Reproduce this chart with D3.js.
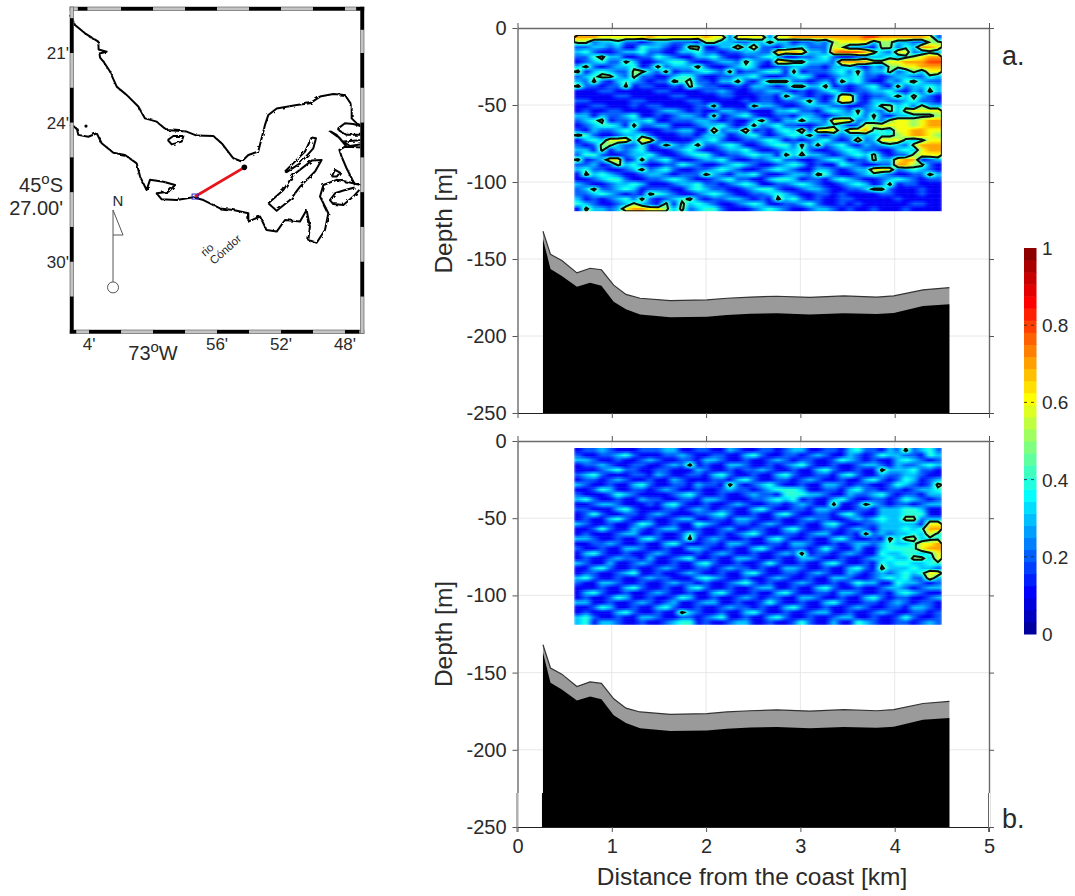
<!DOCTYPE html>
<html>
<head>
<meta charset="utf-8">
<script src="https://d3js.org/d3.v7.min.js"></script>
<style>
    html, body { margin: 0; padding: 0; background: #fff; }
    svg { display: block; }
    text { font-family: "Liberation Sans", Arial, sans-serif; fill: #2a2a2a; }
</style>
</head>
<body>
<svg id="chart" width="1075" height="896"></svg>
<script>
// ---- section data ----
var depthTicks = [0, -50, -100, -150, -200, -250];
var distTicks = [0, 1, 2, 3, 4, 5];
var barTicks = [0, 0.2, 0.4, 0.6, 0.8, 1];

var bottomKm = [0.27, 0.35, 0.47, 0.63, 0.77, 0.89, 1.02, 1.15, 1.30, 1.62, 2.01, 2.22, 2.47, 2.75, 3.10, 3.46, 3.81, 3.99, 4.30, 4.58];
var surfaceTop = [-132, -147, -151, -159, -156, -157, -167, -173, -175.5, -177, -176.6, -175.5, -174.7, -174.2, -174.9, -174, -174.7, -174, -170, -168.6];
var solidTop = [-137, -156.5, -161, -168, -165.4, -167.3, -177.7, -182.7, -186, -187.9, -187.5, -186.4, -185.5, -185.3, -186, -185.3, -185.7, -185, -180.5, -179.4];

// heat values, tenths
var gridKm = [0.6, 4.5];
var gridDepth = [-4.5, -119];
var rowsA = [
    "7776666667 6666667662 6666266777 7777778877 777762",
    "5523342212 3322215533 2233533122 3256666355 332255",
    "2233231143 3212551133 6362213342 2265332155 243776",
    "3421123342 2113342212 2332276763 3278887532 662343",
    "2245331122 4321133421 1223431122 3421123334 345677",
    "1234225311 2344211233 2532166553 3327777556 677788",
    "3521233412 5233352112 3431122332 2133421325 566777",
    "5134322553 2512234325 1223441512 2234252335 235366",
    "2345532522 1134421122 3342112343 1123342212 332243",
    "3252134321 2254522133 5213555221 2315342113 245322",
    "5221225122 1121532211 2133212553 3512123421 523343",
    "1112211111 2211112232 1122332121 2342122334 213253",
    "1111122111 1122111122 1112215321 2126621223 535321",
    "2211111221 1111221111 1212212235 2136621332 234221",
    "1122111212 2111122511 1153321123 3322112355 342533",
    "1211221111 2332121133 2211133422 1343252325 356666",
    "3313223411 2123321512 3421122133 2123342521 334445",
    "2345122334 1122233212 1135213353 3266623425 665677",
    "1234431522 3311123342 1252342211 2343126566 665677",
    "2132234311 1223311623 3612134361 6663667443 667766",
    "5421123342 1112213331 2342123435 2132333344 567765",
    "1343666366 2111133421 1223431212 3421262366 643466",
    "2125532241 2532352234 3112344252 5234213234 325777",
    "3315132341 1123421123 3421123342 1123432211 343677",
    "2442112334 2112344212 2343315353 3212343521 225666",
    "5123661252 3421123342 1122342211 2343122533 677123",
    "2231253421 1224321123 4321123431 2114321122 775521",
    "3422112352 3421122343 2112343211 3321233666 234321",
    "1534321123 3212225321 3342112332 5421123432 112253",
    "1123442112 2343211234 2211344312 2134321123 432122",
    "3211233431 1123342212 3431122343 2112343125 122111",
    "2352234312 2211343221 1234421123 3211223552 111211",
    "2234321215 4321123432 1122343211 2212111122 111211",
    "3121234252 1234521223 3212153421 2112211111 211111",
    "4321123532 1515343211 2343112234 2112121111 112211",
    "1533236776 6535234421 1123432112 3321211211 121111"
];
var rowsB = [
    "1223211122 2331122113 2112212331 1221342213 252342",
    "2112234211 1223211221 1342112212 3211321243 322143",
    "3321121123 2112213321 1211232122 1124321211 343212",
    "1223211221 1232512113 3211212342 1121123321 322343",
    "1112342211 2211132112 1223211211 3421121153 334221",
    "2342111221 3211221342 1121134211 2213421132 233211",
    "1221232112 1132111221 3421122123 2112113421 243123",
    "3211211342 1122132215 2123421121 1332122112 432125",
    "1124311221 2321121123 2212344431 1221342212 212334",
    "2111243211 1123421121 1232214443 3211322342 122133",
    "3421121132 2112213321 1122343412 1134211221 243212",
    "1123321112 1342112112 3211221232 1151125321 221233",
    "2211134211 1221232122 1134211221 3321122133 344311",
    "1242112212 3211122342 1121134211 2213421133 344411",
    "1211342112 1123311221 3321121123 2211232343 355233",
    "3211211243 1121143211 2212321121 1342112233 333166",
    "1124211321 2331121123 1122113421 1221232133 343477",
    "1211123311 2112421121 2342112212 3311215232 334364",
    "3321121134 2112512321 1211342112 1134211215 355344",
    "1122321121 1342112213 3211221332 1121233234 334667",
    "2112113321 1211332112 1134211221 2421131134 444677",
    "1342112112 3211121232 1121123251 2212321143 344346",
    "1211232213 1123411211 3321121133 2112112334 335536",
    "3211311232 1121134211 2112421121 1342112143 443344",
    "1134211211 2321122123 2212113321 1211342153 334332",
    "1221123411 2112321121 1342112212 3211321232 343466",
    "3421121123 2211134321 1211232112 1133211234 342263",
    "2113321121 1232212112 3421211232 1121243311 433212",
    "1112113421 1211342112 1123311211 3421121123 321233",
    "1342112112 3211211342 1121134211 2213321121 343211",
    "1211243112 1124311211 2321221133 2112113421 221123",
    "3311211232 1231123311 2112421121 1342112212 321221",
    "1124311211 3421121123 2212113421 1211232112 213321",
    "1211134211 2115321121 1342112112 3311211232 112212",
    "3421121133 2112212341 1211342112 1123311211 242112",
    "3413321121 1234412112 3311211242 1131143211 221232"
];

// jet colours of the bar
var jetStops = [0, 0.11, 0.36, 0.61, 0.86, 1];
var jetColors = ["#00008f", "#0000ff", "#00ffff", "#ffff00", "#ff0000", "#800000"];

// ---- map data: minutes east of 73W, minutes south of 45S ----
var lonTicks = [[-4, "4'"], [4, "56'"], [8, "52'"], [12, "48'"]];
var latTicks = [[21, "21'"], [24, "24'"], [30, "30'"]];
var lonDomain = [-5.19, 13.19];
var latDomain = [19.06, 33.03];
var topBlack = [[-4.7, -4.1], [-2, 0], [2, 4], [6, 8], [10, 12], [12.7, 13.19]];
var bottomBlack = [[-5.19, -4.8], [-4, -2], [0, 2], [4, 6], [8, 10], [12, 12.9]];
var leftBlack = [[19.5, 21], [22.5, 24], [25.5, 27], [28.5, 30], [31.5, 33]];
var rightBlack = [[19.06, 20], [21, 22.5], [24, 25.5], [27, 28.5], [30, 31.5]];

var northCoast = [[-5.19, 19.36], [-4.88, 19.79], [-4.25, 20.15], [-3.42, 20.51], [-3.4, 20.85], [-2.9, 20.95], [-3.35, 21.02], [-3.31, 21.2], [-3.10, 21.37], [-2.69, 21.80], [-2.27, 22.45], [-1.54, 22.88], [-0.92, 23.31], [-0.50, 23.82], [0.23, 23.96], [0.85, 24.32], [2.10, 24.39], [2.73, 24.56], [3.77, 24.58], [4.29, 24.89], [5.02, 25.54], [5.54, 25.68], [5.96, 25.40], [6.58, 25.25], [6.79, 24.68], [7.00, 24.10], [7.21, 23.67], [7.73, 23.39], [8.98, 23.24], [9.81, 23.17], [10.44, 22.88], [11.27, 22.77], [12.00, 22.81], [12.42, 23.24], [12.42, 23.82], [12.83, 24.10], [13.15, 24.18]];
var southCoast = [[-5.19, 24.10], [-4.77, 24.25], [-4.67, 24.53], [-4.04, 24.61], [-3.52, 24.46], [-3.21, 24.89], [-2.48, 25.30], [-1.75, 25.40], [-1.02, 25.76], [-0.81, 26.33], [-0.40, 26.91], [-0.19, 26.47], [0.65, 26.55], [1.38, 26.69], [0.96, 26.98], [0.23, 27.05], [0.54, 27.31], [1.48, 27.34], [2.52, 27.22], [3.15, 27.34], [4.19, 27.70], [5.02, 27.77], [5.96, 27.91], [5.96, 28.27], [6.69, 28.05], [7.10, 28.63], [7.73, 28.70], [8.25, 28.20], [9.19, 28.27], [9.60, 27.77], [9.81, 28.49], [9.71, 29.06], [10.23, 29.18], [10.75, 28.63], [10.96, 27.91], [10.44, 27.19], [10.65, 26.69], [11.48, 26.47], [12.10, 26.55], [12.52, 26.62], [13.15, 26.73]];
var eastShore = [[12.63, 26.69], [12.10, 25.97], [11.79, 25.47], [11.65, 25.18], [12.00, 25.04], [13.15, 25.07]];
var islands = [
    [[7.21, 27.48], [8.15, 26.91], [8.77, 26.26], [9.92, 25.64], [10.54, 25.61], [10.13, 26.11], [9.19, 26.76], [8.56, 27.34], [7.73, 27.80], [7.21, 27.48]],
    [[8.25, 26.11], [8.98, 25.61], [9.50, 25.25], [9.92, 24.64], [10.19, 24.68], [10.02, 25.11], [9.19, 25.76], [8.35, 26.14], [8.25, 26.11]],
    [[0.92, 24.75], [1.27, 24.58], [1.90, 24.58], [1.79, 24.82], [1.17, 24.94], [0.92, 24.75]],
    [[10.96, 24.32], [11.48, 24.53], [12.10, 25.04], [11.69, 24.68], [10.96, 24.32]],
    [[13.15, 24.18], [12.52, 24.06], [12.0, 24.03], [11.58, 24.25], [11.65, 24.35], [12.10, 24.53], [13.15, 24.53]],
    [[13.15, 24.75], [11.90, 24.82], [12.31, 25.01], [13.15, 24.92]],
    [[11.17, 26.33], [11.38, 26.04], [11.69, 26.16], [11.48, 26.33], [11.17, 26.33]],
    [[12.6, 26.8], [11.90, 26.93], [11.38, 27.05], [11.06, 27.34], [11.27, 27.51], [11.90, 27.55], [12.52, 27.19], [12.9, 26.9]]
];
var transect = [[2.63, 27.19], [5.71, 25.93]];
var smallIsle = [-4.19, 24.15];
var compass = [[-2.5, 27.77], [-2.5, 30.87]];

// ---- scales ----
var svg = d3.select('#chart');
var defs = svg.append('defs');
defs.append('filter').attr('id', 'soft').append('feGaussianBlur').attr('stdDeviation', '1.6 0.7');
defs.append('filter').attr('id', 'softLine').append('feGaussianBlur').attr('stdDeviation', 0.35);

// rough edge of the digitised shoreline
var wiggle = defs.append('filter').attr('id', 'wiggle').attr('x', '-5%').attr('y', '-5%').attr('width', '110%').attr('height', '110%');
wiggle.append('feTurbulence').attr('type', 'fractalNoise').attr('baseFrequency', 0.22).attr('numOctaves', 2).attr('seed', 4).attr('result', 'n');
wiggle.append('feDisplacementMap').attr('in', 'SourceGraphic').attr('in2', 'n').attr('scale', 3.2).attr('result', 'd');
wiggle.append('feGaussianBlur').attr('in', 'd').attr('stdDeviation', 0.35);

var x = d3.scaleLinear().domain([0, 5]).range([517.5, 989]);
var mapX = d3.scaleLinear().domain(lonDomain).range([70, 364]);
var mapY = d3.scaleLinear().domain(latDomain).range([8, 332]);
var barY = d3.scaleLinear().domain([0, 1]).range([634, 248]);
var jet = d3.scaleLinear().domain(jetStops).range(jetColors).clamp(true);

function parseRows(rows) {
    return rows.map(function (r) {
        return r.replace(/ /g, '').split('').map(function (c) { return +c / 10; });
    });
}

// refine the read grid so the rects blend like the shading of the original
function fineCells(grid, steps) {
    var ny = grid.length, nx = grid[0].length, out = [];
    function at(i, j) {
        return grid[Math.max(0, Math.min(ny - 1, j))][Math.max(0, Math.min(nx - 1, i))];
    }
    for (var j = 0; j < ny * steps; j++) {
        for (var i = 0; i < nx * steps; i++) {
            var u = (i + 0.5) / steps - 0.5, v = (j + 0.5) / steps - 0.5;
            var i0 = Math.floor(u), j0 = Math.floor(v), fu = u - i0, fv = v - j0;
            out.push({
                c0: i / steps, c1: (i + 1) / steps, r0: j / steps, r1: (j + 1) / steps,
                v: at(i0, j0) * (1 - fu) * (1 - fv) + at(i0 + 1, j0) * fu * (1 - fv) +
                    at(i0, j0 + 1) * (1 - fu) * fv + at(i0 + 1, j0 + 1) * fu * fv
            });
        }
    }
    return out;
}

function drawPanel(opts) {
    var y = d3.scaleLinear().domain([0, -250]).range(opts.yRange);
    var g = svg.append('g');
    var grid = parseRows(opts.rows);
    var nx = grid[0].length, ny = grid.length;
    var colKm = d3.scaleLinear().domain([0, nx]).range(gridKm);
    var rowDepth = d3.scaleLinear().domain([0, ny]).range(gridDepth);

    // grid lines
    g.append('g').selectAll('line').data(distTicks.slice(1, 5)).enter().append('line')
        .attr('x1', function (d) { return x(d); }).attr('x2', function (d) { return x(d); })
        .attr('y1', opts.yRange[0]).attr('y2', opts.yRange[1])
        .attr('stroke', '#e2e2e2').attr('stroke-width', 0.8);
    g.append('g').selectAll('line').data(depthTicks.slice(1, 5)).enter().append('line')
        .attr('x1', x(0)).attr('x2', x(5))
        .attr('y1', function (d) { return y(d); }).attr('y2', function (d) { return y(d); })
        .attr('stroke', '#e2e2e2').attr('stroke-width', 0.8);

    // heat cells
    var clipId = 'clip' + opts.key;
    defs.append('clipPath').attr('id', clipId).append('rect')
        .attr('x', x(gridKm[0])).attr('y', y(gridDepth[0]))
        .attr('width', x(gridKm[1]) - x(gridKm[0])).attr('height', y(gridDepth[1]) - y(gridDepth[0]));
    var clipped = g.append('g').attr('clip-path', 'url(#' + clipId + ')');
    clipped.append('g').attr('filter', 'url(#soft)').selectAll('rect').data(fineCells(grid, 3)).enter().append('rect')
        .attr('x', function (d) { return x(colKm(d.c0)); })
        .attr('y', function (d) { return y(rowDepth(d.r0)); })
        .attr('width', function (d) { return x(colKm(d.c1)) - x(colKm(d.c0)) + 0.5; })
        .attr('height', function (d) { return y(rowDepth(d.r1)) - y(rowDepth(d.r0)) + 0.5; })
        .attr('fill', function (d) { return jet(d.v); });

    // contour of the 0.45 level
    var contour = d3.contours().size([nx, ny]).thresholds([0.45])(d3.merge(grid));
    var path = d3.geoPath(d3.geoTransform({
        point: function (c, r) { this.stream.point(x(colKm(c)), y(rowDepth(r))); }
    }));
    clipped.append('g').attr('filter', 'url(#softLine)').selectAll('path').data(contour).enter().append('path')
        .attr('d', path).attr('fill', 'none').attr('stroke', '#0a0a0a').attr('stroke-width', 2);

    // sea floor, gray layer then solid bottom
    var floorPoints = bottomKm.map(function (k, i) { return { k: k, top: surfaceTop[i], solid: solidTop[i] }; });
    var grayArea = d3.area().x(function (d) { return x(d.k); }).y0(y(-250)).y1(function (d) { return y(d.top); });
    var solidArea = d3.area().x(function (d) { return x(d.k); }).y0(y(-250)).y1(function (d) { return y(d.solid); });
    var topLine = d3.line().x(function (d) { return x(d.k); }).y(function (d) { return y(d.top); });
    g.append('path').datum(floorPoints).attr('d', grayArea).attr('fill', '#9a9a9a');
    g.append('path').datum(floorPoints).attr('d', topLine).attr('fill', 'none').attr('stroke', '#333').attr('stroke-width', 1.2);
    g.append('path').datum(floorPoints).attr('d', solidArea).attr('fill', '#000');

    // axes
    function styled(sel) {
        sel.select('.domain').attr('stroke', '#6a6a6a').attr('stroke-width', 1.4);
        sel.selectAll('.tick line').attr('stroke', '#555').attr('stroke-width', 1);
        sel.selectAll('.tick text').attr('font-size', 20).style('font-family', '"Liberation Sans", Arial, sans-serif');
    }
    var plain = function (d) { return String(d); };
    g.append('g').attr('transform', 'translate(' + x(0) + ',0)')
        .call(d3.axisLeft(y).tickValues(depthTicks).tickSize(5).tickSizeOuter(0).tickPadding(6).tickFormat(plain)).call(styled);
    g.append('g').attr('transform', 'translate(' + x(5) + ',0)')
        .call(d3.axisRight(y).tickValues(depthTicks).tickSize(5).tickSizeOuter(0).tickFormat('')).call(styled);
    g.append('g').attr('transform', 'translate(0,' + opts.yRange[0] + ')')
        .call(d3.axisTop(x).tickValues(distTicks).tickSize(5).tickSizeOuter(0).tickFormat('')).call(styled);
    var bottom = g.append('g').attr('transform', 'translate(0,' + opts.yRange[1] + ')')
        .call(d3.axisBottom(x).tickValues(distTicks).tickSize(5).tickSizeOuter(0).tickPadding(7)
            .tickFormat(opts.xLabels ? plain : '')).call(styled);
    bottom.select('.domain').attr('stroke', '#222').attr('stroke-width', 1.2);

    g.append('text').attr('transform', 'translate(452,' + y(-125) + ') rotate(-90)')
        .attr('text-anchor', 'middle').attr('font-size', 24.5).text('Depth [m]');
    g.append('text').attr('x', 1002).attr('y', opts.tagY).attr('font-size', 27).text(opts.tag);

    // pasted strip at the foot of panel b: sides sit a pixel out and are thinner
    if (opts.strip !== undefined) {
        var s = y(opts.strip);
        g.append('g').selectAll('line').data([x(0), x(5)]).enter().append('line')
            .attr('x1', function (d) { return d; }).attr('x2', function (d) { return d; })
            .attr('y1', s).attr('y2', opts.yRange[1]).attr('stroke', '#fff').attr('stroke-width', 2.2);
        g.append('g').selectAll('line').data([x(0) - 0.5, x(5) - 0.5]).enter().append('line')
            .attr('x1', function (d) { return d; }).attr('x2', function (d) { return d; })
            .attr('y1', s).attr('y2', opts.yRange[1] + 5).attr('stroke', '#666').attr('stroke-width', 1);
        g.append('rect').attr('x', x(bottomKm[0]) - 1).attr('width', 3)
            .attr('y', s).attr('height', opts.yRange[1] - s).attr('fill', '#000');
    }
}

drawPanel({ key: 'a', rows: rowsA, yRange: [28, 413], tag: 'a.', tagY: 65, xLabels: false });
drawPanel({ key: 'b', rows: rowsB, yRange: [441, 827], tag: 'b.', tagY: 828, xLabels: true, strip: -228 });

svg.append('text').attr('x', 752).attr('y', 885).attr('text-anchor', 'middle')
    .attr('font-size', 24.5).text('Distance from the coast [km]');

// ---- colour bar ----
var barSteps = d3.range(32).map(function (i) { return i / 32; });
var barG = svg.append('g');
barG.selectAll('rect').data(barSteps).enter().append('rect')
    .attr('x', 1024).attr('width', 12.5)
    .attr('y', function (d) { return barY(d + 1 / 32); })
    .attr('height', function () { return barY(0) - barY(1 / 32) + 0.5; })
    .attr('fill', function (d) { return jet(d + 1 / 64); });
barG.append('g').selectAll('line').data(barTicks.slice(1, 5)).enter().append('line')
    .attr('x1', 1024).attr('x2', 1036.5)
    .attr('y1', function (d) { return barY(d); }).attr('y2', function (d) { return barY(d); })
    .attr('stroke', '#222').attr('stroke-width', 0.8).attr('stroke-dasharray', '3 4');
barG.append('g').selectAll('text').data(barTicks).enter().append('text')
    .attr('x', 1042).attr('y', function (d) { return barY(d) + 7; })
    .attr('font-size', 19).text(function (d) { return d; });

// ---- location map ----
var mapG = svg.append('g');
var coastLine = d3.line().x(function (d) { return mapX(d[0]); }).y(function (d) { return mapY(d[1]); });
var coastG = mapG.append('g').attr('fill', 'none').attr('stroke', '#000').attr('stroke-width', 2)
    .attr('stroke-linejoin', 'round').attr('filter', 'url(#wiggle)');
[northCoast, southCoast, eastShore].concat(islands).forEach(function (c) {
    coastG.append('path').attr('d', coastLine(c));
});
mapG.append('circle').attr('cx', mapX(smallIsle[0])).attr('cy', mapY(smallIsle[1])).attr('r', 1.6).attr('fill', '#000');

mapG.append('path').attr('d', coastLine(transect)).attr('stroke', '#e8141c').attr('stroke-width', 2.8).attr('fill', 'none');
mapG.append('circle').attr('cx', mapX(transect[1][0])).attr('cy', mapY(transect[1][1])).attr('r', 2.8).attr('fill', '#000');
mapG.append('rect').attr('x', mapX(transect[0][0]) - 3).attr('y', mapY(transect[0][1]) - 2.5)
    .attr('width', 6).attr('height', 5).attr('fill', 'none').attr('stroke', '#2a2ad0').attr('stroke-width', 1);

// compass
var cx0 = mapX(compass[0][0]), cy0 = mapY(compass[0][1]), cy1 = mapY(compass[1][1]);
mapG.append('line').attr('x1', cx0).attr('x2', cx0).attr('y1', cy0).attr('y2', cy1).attr('stroke', '#555').attr('stroke-width', 1);
mapG.append('path').attr('d', d3.line()([[cx0, cy0], [cx0 + 10, cy0 + 25], [cx0, cy0 + 25]])).attr('fill', 'none').attr('stroke', '#555').attr('stroke-width', 1);
mapG.append('circle').attr('cx', cx0).attr('cy', cy1 + 5.5).attr('r', 5.5).attr('fill', 'none').attr('stroke', '#555').attr('stroke-width', 1);
mapG.append('text').attr('x', cx0 + 5).attr('y', cy0 - 4).attr('text-anchor', 'middle').attr('font-size', 15).text('N');

mapG.append('text').attr('transform', 'translate(205,257) rotate(-42)').attr('font-size', 11.5).text('rio');
mapG.append('text').attr('transform', 'translate(214,265) rotate(-42)').attr('font-size', 11.5).text('Cóndor');

// fancy frame
var frame = mapG.append('g');
function frameBand(x0, y0, w, h) {
    frame.append('rect').attr('x', x0).attr('y', y0).attr('width', w).attr('height', h)
        .attr('fill', '#c4c4c4').attr('stroke', '#666').attr('stroke-width', 0.7);
}
frameBand(70, 7, 294, 3.5);
frameBand(70, 330, 294, 3.5);
frameBand(70, 7, 3.5, 326.5);
frameBand(360.5, 7, 3.5, 326.5);
frame.append('g').selectAll('rect').data(topBlack).enter().append('rect')
    .attr('x', function (d) { return mapX(d[0]); }).attr('width', function (d) { return mapX(d[1]) - mapX(d[0]); })
    .attr('y', 7).attr('height', 3.5).attr('fill', '#000');
frame.append('g').selectAll('rect').data(bottomBlack).enter().append('rect')
    .attr('x', function (d) { return mapX(d[0]); }).attr('width', function (d) { return mapX(d[1]) - mapX(d[0]); })
    .attr('y', 330).attr('height', 3.5).attr('fill', '#000');
frame.append('g').selectAll('rect').data(leftBlack).enter().append('rect')
    .attr('y', function (d) { return mapY(d[0]); }).attr('height', function (d) { return mapY(d[1]) - mapY(d[0]); })
    .attr('x', 70).attr('width', 3.5).attr('fill', '#000');
frame.append('g').selectAll('rect').data(rightBlack).enter().append('rect')
    .attr('y', function (d) { return mapY(d[0]); }).attr('height', function (d) { return mapY(d[1]) - mapY(d[0]); })
    .attr('x', 360.5).attr('width', 3.5).attr('fill', '#000');

mapG.append('g').selectAll('text').data(lonTicks).enter().append('text')
    .attr('x', function (d) { return mapX(d[0]); }).attr('y', 350).attr('text-anchor', 'middle')
    .attr('font-size', 17).text(function (d) { return d[1]; });
mapG.append('g').selectAll('text').data(latTicks).enter().append('text')
    .attr('x', 69).attr('y', function (d) { return mapY(d[0]) + 6; }).attr('text-anchor', 'end')
    .attr('font-size', 17).text(function (d) { return d[1]; });

// degree labels, the o is raised like in the figure
var lon0 = mapG.append('text').attr('x', mapX(0)).attr('y', 360).attr('text-anchor', 'middle').attr('font-size', 20);
lon0.append('tspan').text('73');
lon0.append('tspan').attr('dy', -8).attr('font-size', 15).text('o');
lon0.append('tspan').attr('dy', 8).text('W');
var lat0 = mapG.append('text').attr('x', 63).attr('y', 192).attr('text-anchor', 'end').attr('font-size', 20);
lat0.append('tspan').text('45');
lat0.append('tspan').attr('dy', -8).attr('font-size', 15).text('o');
lat0.append('tspan').attr('dy', 8).text('S');
mapG.append('text').attr('x', 63).attr('y', 215).attr('text-anchor', 'end').attr('font-size', 20).text("27.00'");
</script>
</body>
</html>
